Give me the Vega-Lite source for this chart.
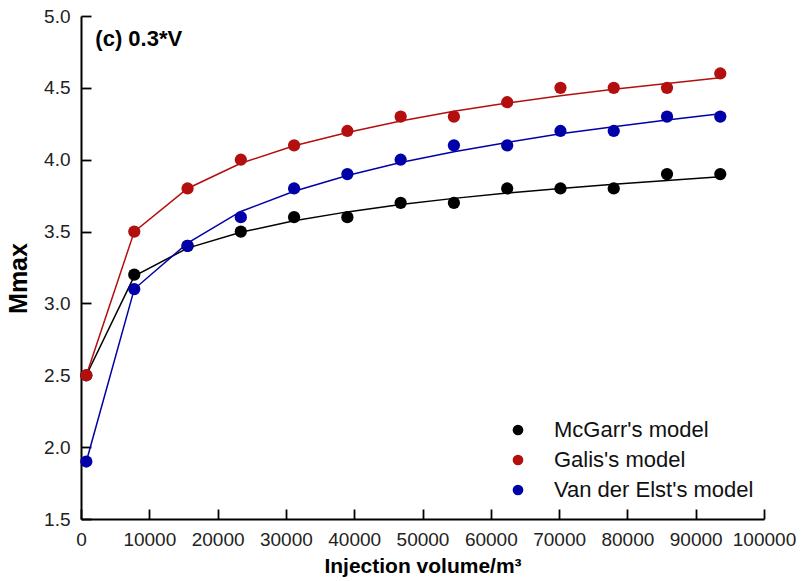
{
  "$schema": "https://vega.github.io/schema/vega-lite/v6.json",
  "width": 683,
  "height": 503,
  "autosize": "none",
  "padding": {"left": 81, "top": 16, "right": 38, "bottom": 62},
  "background": "white",
  "config": {
    "view": {"stroke": null},
    "font": "Liberation Sans",
    "axis": {"grid": false, "domainColor": "#000", "domainWidth": 2, "tickColor": "#000", "labelColor": "#222", "labelFontSize": 19, "titleColor": "#000", "titleFontWeight": "bold"},
    "legend": {"labelFontSize": 22, "labelColor": "#111", "symbolType": "circle", "symbolStrokeWidth": 0, "labelLimit": 0}
  },
  "datasets": {
    "series": [
      {"model": "McGarr's model", "x": 780, "m": 2.5, "fit": 2.5},
      {"model": "McGarr's model", "x": 7800, "m": 3.2, "fit": 3.19},
      {"model": "McGarr's model", "x": 15600, "m": 3.4, "fit": 3.385},
      {"model": "McGarr's model", "x": 23400, "m": 3.5, "fit": 3.495},
      {"model": "McGarr's model", "x": 31200, "m": 3.6, "fit": 3.575},
      {"model": "McGarr's model", "x": 39000, "m": 3.6, "fit": 3.637},
      {"model": "McGarr's model", "x": 46800, "m": 3.7, "fit": 3.688},
      {"model": "McGarr's model", "x": 54600, "m": 3.7, "fit": 3.731},
      {"model": "McGarr's model", "x": 62400, "m": 3.8, "fit": 3.768},
      {"model": "McGarr's model", "x": 70200, "m": 3.8, "fit": 3.8},
      {"model": "McGarr's model", "x": 78000, "m": 3.8, "fit": 3.83},
      {"model": "McGarr's model", "x": 85800, "m": 3.9, "fit": 3.856},
      {"model": "McGarr's model", "x": 93600, "m": 3.9, "fit": 3.882},
      {"model": "Galis's model", "x": 780, "m": 2.5, "fit": 2.5},
      {"model": "Galis's model", "x": 7800, "m": 3.5, "fit": 3.5},
      {"model": "Galis's model", "x": 15600, "m": 3.8, "fit": 3.8},
      {"model": "Galis's model", "x": 23400, "m": 4.0, "fit": 3.975},
      {"model": "Galis's model", "x": 31200, "m": 4.1, "fit": 4.097},
      {"model": "Galis's model", "x": 39000, "m": 4.2, "fit": 4.19},
      {"model": "Galis's model", "x": 46800, "m": 4.3, "fit": 4.27},
      {"model": "Galis's model", "x": 54600, "m": 4.3, "fit": 4.337},
      {"model": "Galis's model", "x": 62400, "m": 4.4, "fit": 4.394},
      {"model": "Galis's model", "x": 70200, "m": 4.5, "fit": 4.445},
      {"model": "Galis's model", "x": 78000, "m": 4.5, "fit": 4.49},
      {"model": "Galis's model", "x": 85800, "m": 4.5, "fit": 4.531},
      {"model": "Galis's model", "x": 93600, "m": 4.6, "fit": 4.57},
      {"model": "Van der Elst's model", "x": 780, "m": 1.9, "fit": 1.9},
      {"model": "Van der Elst's model", "x": 7800, "m": 3.1, "fit": 3.1},
      {"model": "Van der Elst's model", "x": 15600, "m": 3.4, "fit": 3.42},
      {"model": "Van der Elst's model", "x": 23400, "m": 3.6, "fit": 3.64},
      {"model": "Van der Elst's model", "x": 31200, "m": 3.8, "fit": 3.78},
      {"model": "Van der Elst's model", "x": 39000, "m": 3.9, "fit": 3.89},
      {"model": "Van der Elst's model", "x": 46800, "m": 4.0, "fit": 3.98},
      {"model": "Van der Elst's model", "x": 54600, "m": 4.1, "fit": 4.055},
      {"model": "Van der Elst's model", "x": 62400, "m": 4.1, "fit": 4.12},
      {"model": "Van der Elst's model", "x": 70200, "m": 4.2, "fit": 4.18},
      {"model": "Van der Elst's model", "x": 78000, "m": 4.2, "fit": 4.23},
      {"model": "Van der Elst's model", "x": 85800, "m": 4.3, "fit": 4.277},
      {"model": "Van der Elst's model", "x": 93600, "m": 4.3, "fit": 4.32}
    ],
    "note": [{"label": "(c) 0.3*V", "x": 2100, "y": 4.84}]
  },
  "layer": [
    {
      "data": {"name": "series"},
      "mark": {"type": "line", "strokeWidth": 1.5},
      "encoding": {
        "x": {"field": "x", "type": "quantitative", "scale": {"domain": [0, 100000], "nice": false, "zero": false},
          "axis": {"title": "Injection volume/m³", "titleFontSize": 21, "titlePadding": 6,
            "values": [0,10000,20000,30000,40000,50000,60000,70000,80000,90000,100000],
            "format": "d", "tickSize": -10, "tickWidth": 1.8, "labelPadding": 21, "labelFlush": -1}},
        "y": {"field": "fit", "type": "quantitative", "scale": {"domain": [1.5, 5.0], "nice": false, "zero": false},
          "axis": {"title": "Mmax", "titleFontSize": 25, "titlePadding": 12, "titleY": 262,
            "values": [1.5,1.75,2.0,2.25,2.5,2.75,3.0,3.25,3.5,3.75,4.0,4.25,4.5,4.75,5.0],
            "format": ".1f", "tickSize": -10, "tickWidth": 1.8, "labelPadding": 21,
            "labelExpr": "datum.value % 0.5 === 0 ? datum.label : ''",
            "tickDash": {"condition": {"test": "datum.value % 0.5 !== 0", "value": [5, 20]}, "value": [10, 0]}}},
        "color": {"field": "model", "type": "nominal",
          "scale": {"domain": ["McGarr's model", "Galis's model", "Van der Elst's model"], "range": ["#000000", "#b30f0f", "#0000a8"]},
          "legend": {"title": null, "orient": "none", "legendX": 426, "legendY": 403, "padding": 0, "symbolSize": 115, "symbolType": "circle", "labelOffset": 25, "rowPadding": 8}}
      }
    },
    {
      "data": {"name": "series"},
      "mark": {"type": "circle", "size": 150, "opacity": 1},
      "encoding": {
        "x": {"field": "x", "type": "quantitative"},
        "y": {"field": "m", "type": "quantitative"},
        "color": {"field": "model", "type": "nominal"}
      }
    },
    {
      "data": {"name": "note"},
      "mark": {"type": "text", "align": "left", "baseline": "middle", "fontSize": 22, "fontWeight": "bold", "color": "#000"},
      "encoding": {
        "x": {"field": "x", "type": "quantitative"},
        "y": {"field": "y", "type": "quantitative"},
        "text": {"field": "label"}
      }
    }
  ]
}
